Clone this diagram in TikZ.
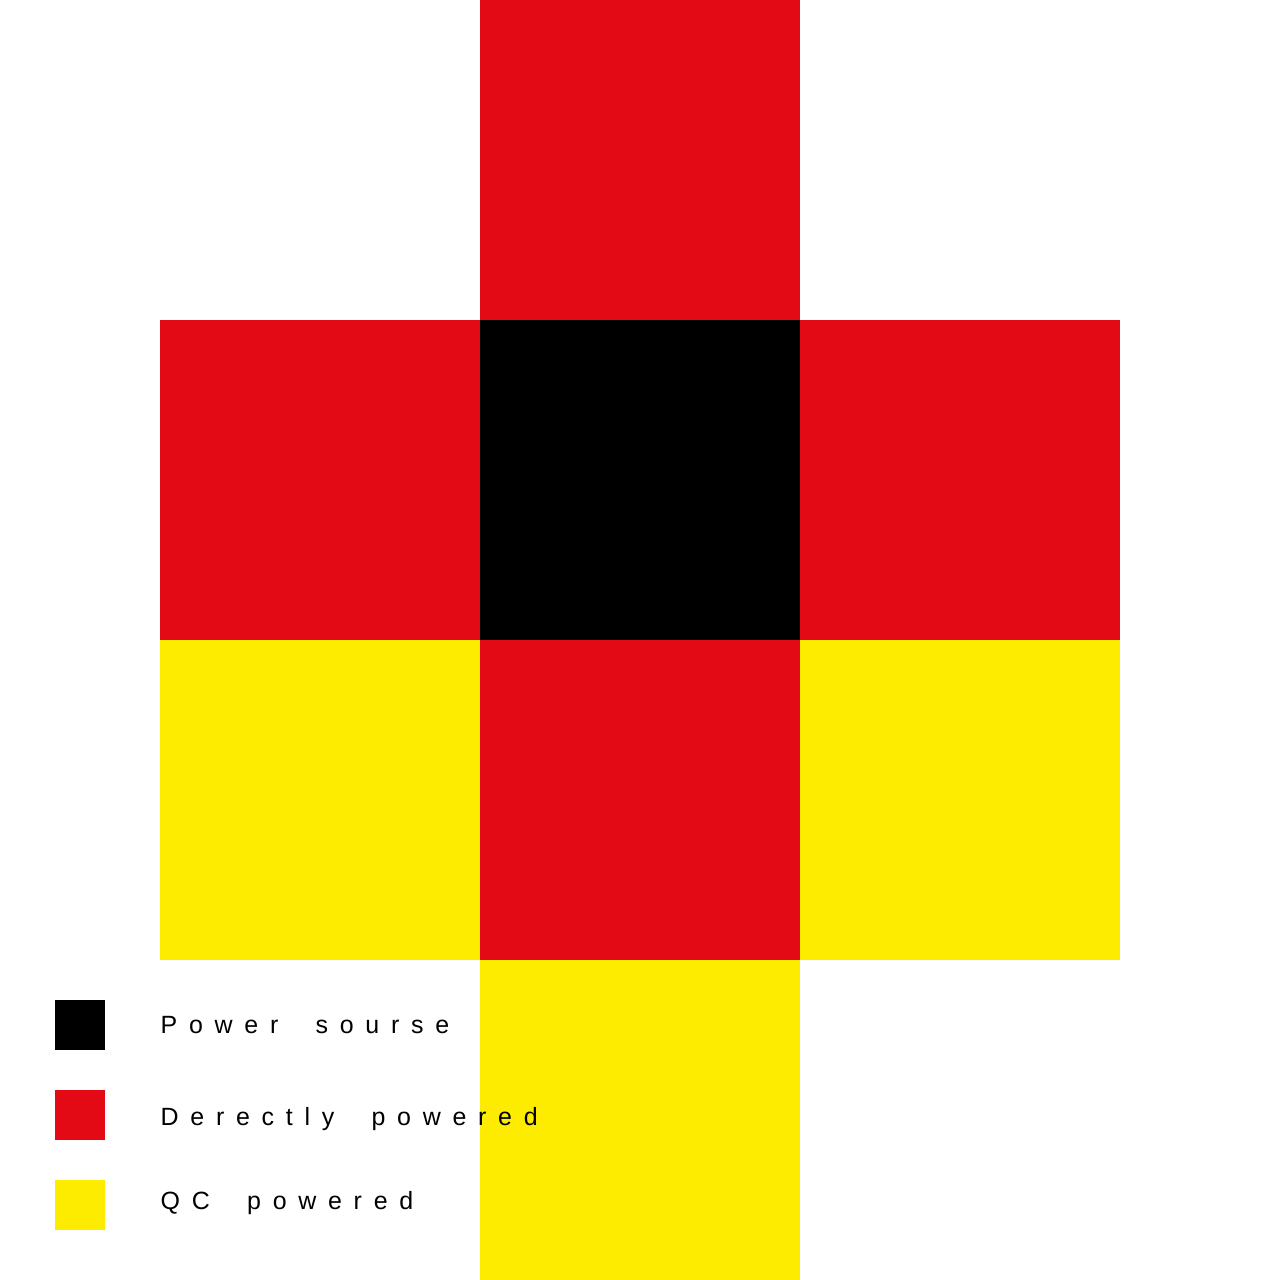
\documentclass[tikz,border=0pt]{standalone}
\usepackage{fontspec}
\setmainfont{Liberation Sans}
\newfontfamily\legendfont[LetterSpace=47,WordSpace=2]{Liberation Sans}
\usepackage{tikz}
\usetikzlibrary{positioning}

\definecolor{pred}{RGB}{227,9,21}
\definecolor{pyellow}{RGB}{253,236,0}

\tikzset{
  cell/.style={minimum size=3.2cm, inner sep=0pt, outer sep=0pt},
  swatch/.style={minimum size=0.5cm, inner sep=0pt, outer sep=0pt},
  legendtext/.style={anchor=base west, inner sep=0pt,
    font=\legendfont\fontsize{7.1}{8.5}\selectfont}
}

\begin{document}
\begin{tikzpicture}
\useasboundingbox (0,0) rectangle (12.8,12.8);

% grid of cells
\node[cell, fill=pred] (top) at (6.4,11.2) {};
\node[cell, fill=pred] (midleft) at (3.2,8.0) {};
\node[cell, fill=black] (source) at (6.4,8.0) {};
\node[cell, fill=pred] (midright) at (9.6,8.0) {};
\node[cell, fill=pyellow] (lowleft) at (3.2,4.8) {};
\node[cell, fill=pred] (lowmid) at (6.4,4.8) {};
\node[cell, fill=pyellow] (lowright) at (9.6,4.8) {};
\node[cell, fill=pyellow] (bottom) at (6.4,1.6) {};

% legend
\node[swatch, fill=black] (keysource) at (0.8,2.55) {};
\node[swatch, fill=pred] (keydirect) at (0.8,1.65) {};
\node[swatch, fill=pyellow] (keyqc) at (0.8,0.75) {};

\node[legendtext] (txtsource) at (1.6,2.46) {Power sourse};
\node[legendtext] (txtdirect) at (1.6,1.54) {Derectly powered};
\node[legendtext] (txtqc) at (1.6,0.70) {QC powered};

\end{tikzpicture}
\end{document}
